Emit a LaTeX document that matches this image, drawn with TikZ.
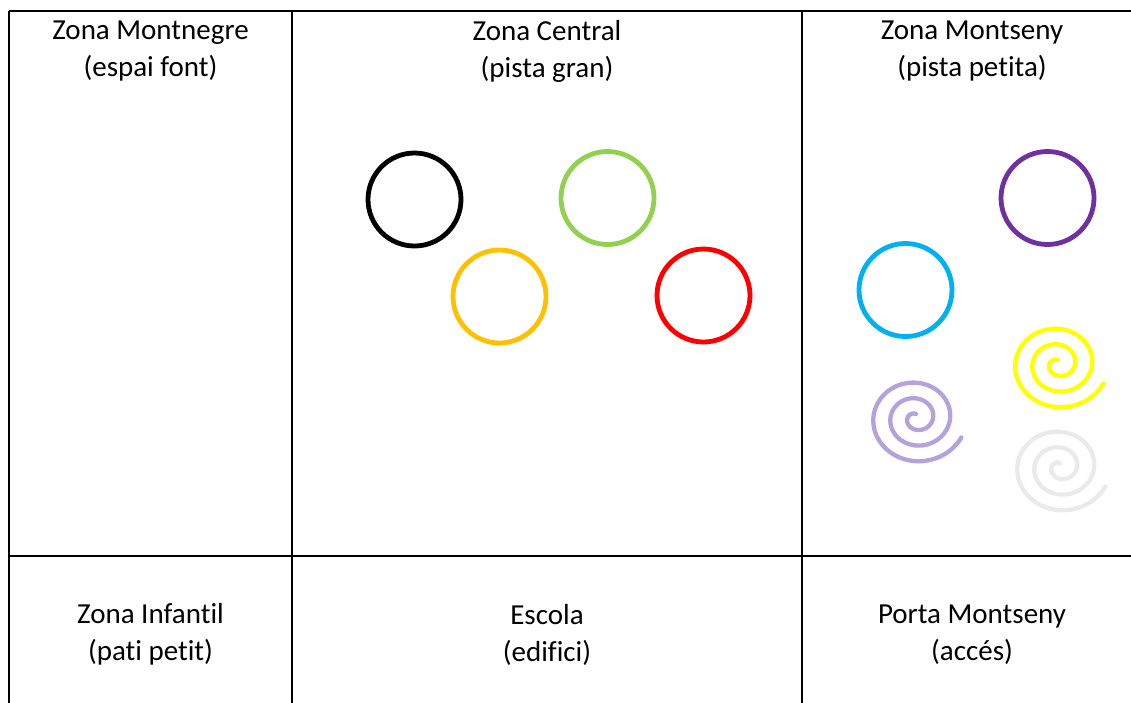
\documentclass[tikz,border=0pt]{standalone}
\usepackage{fontspec}
\setmainfont[Ligatures=CommonOff]{Carlito}
\definecolor{cgreen}{HTML}{92D050}
\definecolor{corange}{HTML}{FFC000}
\definecolor{cred}{HTML}{FF0000}
\definecolor{cpurple}{HTML}{7030A0}
\definecolor{cblue}{HTML}{00B0F0}
\definecolor{cyellow}{HTML}{FFFF00}
\definecolor{clav}{RGB}{180,162,220}
\definecolor{cgray}{RGB}{234,234,234}
\tikzset{
  gridline/.style={line width=2pt, black},
  label/.style={align=center, font=\fontsize{29}{37}\selectfont, inner sep=0pt},
  hoop/.style={circle, draw=#1, line width=4.8pt, minimum size=93pt, inner sep=0pt},
  spiralline/.style={draw=#1, line width=4.3pt, line cap=round}
}
\newcommand\myspiral[3]{%
  \draw[spiralline=#3, shift={(#1,#2)}, yscale=0.92]
    plot[domain=90:1055, samples=220, smooth] ({(\x/21.1)*cos(\x)}, {-(\x/21.1)*sin(\x)});
}
\begin{document}
\begin{tikzpicture}[x=1pt,y=-1pt]
\useasboundingbox (0,0) rectangle (1131,702);
% grid coordinates
\coordinate (tl) at (9,10.5);
\coordinate (tr) at (1140,10.5);
\coordinate (bl) at (9,710);
\coordinate (v1t) at (292,10.5);
\coordinate (v1b) at (292,710);
\coordinate (v2t) at (802,10.5);
\coordinate (v2b) at (802,710);
\coordinate (hl) at (9,555.5);
\coordinate (hr) at (1140,555.5);
\draw[gridline] (tl) -- (tr);
\draw[gridline] (tl) -- (bl);
\draw[gridline] (v1t) -- (v1b);
\draw[gridline] (v2t) -- (v2b);
\draw[gridline] (hl) -- (hr);
% labels
\node[label] (zmon) at (150.5,51.5) {Zona Montnegre\\(espai font)};
\node[label] (zcen) at (547,51.5) {Zona Central\\(pista gran)};
\node[label] (zmsy) at (972,51.5) {Zona Montseny\\(pista petita)};
\node[label] (zinf) at (150.5,634.5) {Zona Infantil\\(pati petit)};
\node[label] (esc) at (547,634.5) {Escola\\(edifici)};
\node[label] (porta) at (972,634.5) {Porta Montseny\\(accés)};
% hoops
\node[hoop=black] (hblack) at (414.5,199.5) {};
\node[hoop=cgreen] (hgreen) at (607.5,198) {};
\node[hoop=corange] (horange) at (499.5,296.5) {};
\node[hoop=cred] (hred) at (703.5,295.5) {};
\node[hoop=cpurple] (hpurple) at (1047.5,198) {};
\node[hoop=cblue] (hblue) at (905.5,290) {};
% spirals
\myspiral{1058}{364}{cyellow}
\myspiral{916}{418}{clav}
\myspiral{1060}{467}{cgray}
\end{tikzpicture}
\end{document}
